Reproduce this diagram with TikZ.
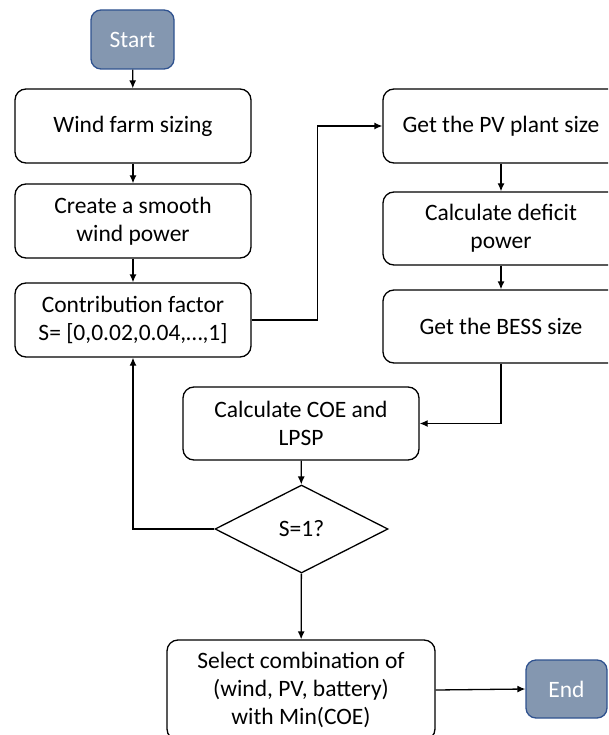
\documentclass[tikz,border=0pt]{standalone}
\usepackage{fontspec}
\setmainfont{Carlito}
\usetikzlibrary{shapes.geometric,arrows.meta}

\definecolor{termfill}{RGB}{132,151,176}
\definecolor{termline}{RGB}{47,82,143}

\begin{document}
\begin{tikzpicture}
	[x=1pt,y=-1pt,line width=1.3pt,
	every node/.style={align=center,inner sep=2pt,font=\fontsize{23.5}{28}\selectfont},
	box/.style={draw,rounded corners=11pt,minimum width=236pt,minimum height=74pt},
	term/.style={draw=termline,fill=termfill,text=white,rounded corners=10pt,minimum width=83pt,minimum height=59pt},
	decision/.style={draw,diamond,inner sep=0pt,minimum width=173pt,minimum height=88pt},
	>={Latex[length=8pt,width=7pt]}]
	\clip (0,0) rectangle (608,735);
	\node (start) [term] at (132.5,39.5) {Start};
	\node (wind) [box] at (133,126) {Wind farm sizing};
	\node (smooth) [box] at (133,221) {Create a smooth\\wind power};
	\node (contrib) [box] at (133,320) {Contribution factor\\S= [0,0.02,0.04,\dots,1]};
	\node (pv) [box] at (501,126) {Get the PV plant size};
	\node (deficit) [box,minimum height=73pt] at (501,228.5) {Calculate deficit\\power};
	\node (bess) [box,minimum height=73pt] at (501,326.5) {Get the BESS size};
	\node (coe) [box,minimum height=73pt] at (301,423.5) {Calculate COE and\\LPSP};
	\node (check) [decision] at (301.5,529) {S=1?};
	\node (select) [box,minimum width=268pt,minimum height=100pt] at (301,690) {Select combination of\\(wind, PV, battery)\\with Min(COE)};
	\node (end) [term,minimum width=81pt,minimum height=58pt] at (566.5,689) {End};
	\draw [->] (start) -- (wind);
	\draw [->] (wind) -- (smooth);
	\draw [->] (smooth) -- (contrib);
	\draw [->] (contrib.east) -- ++(66,0) |- (pv.west);
	\draw [->] (pv) -- (deficit);
	\draw [->] (deficit) -- (bess);
	\draw [->] (bess.south) |- (coe.east);
	\draw [->] (coe) -- (check);
	\draw [->] (check.west) -| (contrib.south);
	\draw [->] (check) -- (select);
	\draw [->] (select.east) -- (end.west);
	\end{tikzpicture}
\end{document}
